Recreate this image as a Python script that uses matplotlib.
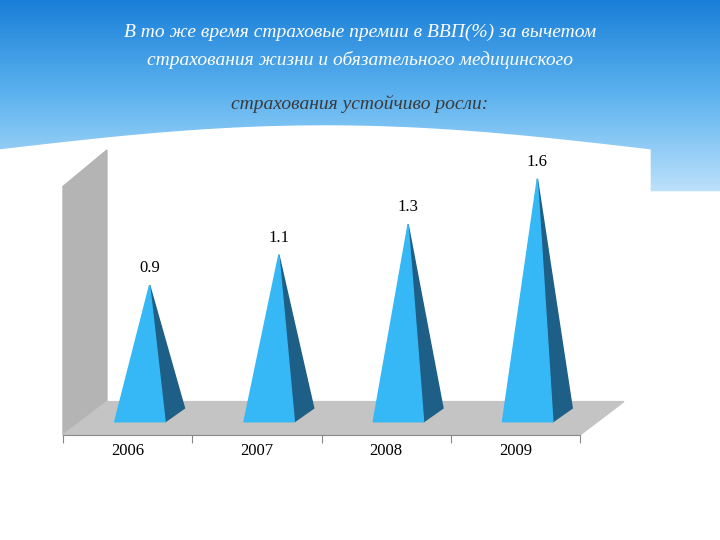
import numpy as np
import matplotlib.pyplot as plt
from matplotlib.patches import Polygon
from matplotlib.colors import LinearSegmentedColormap

# ============================================================
# DATA
# ============================================================

YEARS = ["2006", "2007", "2008", "2009"]
VALUES = [0.9, 1.1, 1.3, 1.6]
LABELS = ["0.9", "1.1", "1.3", "1.6"]

TITLE_LINES = [
    "В то же время страховые премии в ВВП(%) за вычетом",
    "страхования жизни и обязательного медицинского",
    "страхования устойчиво росли:",
]

SERIF = ["Liberation Serif", "DejaVu Serif"]

W, H = 720, 540
fig = plt.figure(figsize=(7.2, 5.4), dpi=100)

# ============================================================
# BACKGROUND BANNER (pixel coordinates)
# ============================================================

bg = fig.add_axes([0, 0, 1, 1])
bg.set_xlim(0, W)
bg.set_ylim(H, 0)
bg.axis("off")

grad = np.linspace(0, 1, 200)[:, None] * np.ones((1, 10))
cmap = LinearSegmentedColormap.from_list("b", ["#1a7fd8", "#5fb4ef", "#bfe2fb"])
bg.imshow(grad, extent=[0, W, 195, 0], cmap=cmap, aspect="auto", zorder=0)

xs = np.linspace(0, 650, 200)
wave = 150 - 24 * np.sin(np.pi * xs / 650)
poly_x = np.r_[xs, 650, 650, W, W, 0]
poly_y = np.r_[wave, wave[-1], 192, 192, H, H]
bg.add_patch(Polygon(np.column_stack([poly_x, poly_y]), closed=True,
                     color="white", zorder=1))

bg.text(360, 32, TITLE_LINES[0], ha="center", va="center", color="white",
        fontsize=14, style="italic", family=SERIF, zorder=3)
bg.text(360, 60, TITLE_LINES[1], ha="center", va="center", color="white",
        fontsize=14, style="italic", family=SERIF, zorder=3)
bg.text(360, 104, TITLE_LINES[2], ha="center", va="center", color="#3a3a3a",
        fontsize=14, style="italic", family=SERIF, zorder=3)

# ============================================================
# CHART AREA
# ============================================================

ax = fig.add_axes([63 / W, 1 - 435 / H, (580 - 63) / W, (435 - 150) / H])
ax.set_xlim(-0.5, 3.5)
ax.set_ylim(-0.087, 1.79)
ax.patch.set_alpha(0)
for s in ["top", "right", "left"]:
    ax.spines[s].set_visible(False)
ax.spines["bottom"].set_color("#888888")
ax.set_yticks([])
ax.set_xticks(np.arange(-0.5, 4, 1))
ax.set_xticklabels([])
ax.tick_params(axis="x", length=6, color="#888888")
for i, y in enumerate(YEARS):
    ax.text(i, -0.14, y, ha="center", va="top", fontsize=12, family=SERIF)

dx_depth = 0.34
dy_depth = 0.22
base0 = -0.087
wall_top = 1.79

# back wall and floor
ax.add_patch(Polygon([[-0.5, base0], [-0.5, 1.55], [-0.5 + dx_depth, wall_top],
                      [-0.5 + dx_depth, base0 + dy_depth]],
                     closed=True, color="#b4b4b4", clip_on=False, zorder=1))
ax.add_patch(Polygon([[-0.5, base0], [3.5, base0], [3.5 + dx_depth, base0 + dy_depth],
                      [-0.5 + dx_depth, base0 + dy_depth]],
                     closed=True, color="#c4c4c4", clip_on=False, zorder=1))

# pyramids
for i, v in enumerate(VALUES):
    apex = (i + 0.17, v)
    fl = (i - 0.1, 0.0)
    fr = (i + 0.29, 0.0)
    br = (i + 0.44, 0.09)
    ax.add_patch(Polygon([apex, fr, br], closed=True, color="#1d5f86", zorder=3))
    ax.add_patch(Polygon([apex, fl, fr], closed=True, color="#35b8f5", zorder=4))
    ax.text(i + 0.17, v + 0.06, LABELS[i], ha="center", va="bottom",
            fontsize=12, family=SERIF, zorder=5)

fig.savefig("out.png", dpi=100)
